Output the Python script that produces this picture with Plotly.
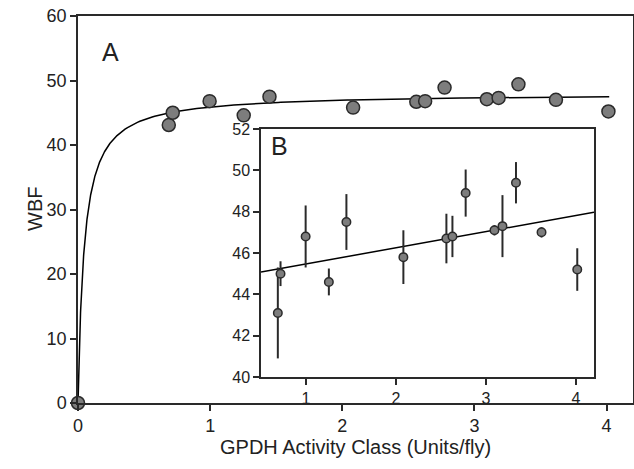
import numpy as np
import plotly.graph_objects as go

# Data
gpdh = [0.687, 0.717, 0.996, 1.254, 1.449, 2.082, 2.56, 2.627, 2.774, 3.094, 3.183, 3.333, 3.617, 4.014]
wbf = [43.1, 45.0, 46.8, 44.6, 47.5, 45.8, 46.7, 46.8, 48.9, 47.1, 47.3, 49.4, 47.0, 45.2]
wbf_err = [2.2, 0.6, 1.5, 0.65, 1.35, 1.3, 1.2, 1.0, 1.14, 0.25, 1.5, 1.0, 0.25, 1.03]
origin_x = [0.0]
origin_y = [0.0]

# Saturation fit (panel A): WBF = vmax * x / (k + x)
vmax = 48.04
k_half = 0.0468
fit_a_xmax = 4.02

# Linear fit (panel B) endpoints
fit_b_x = [0.5, 4.2]
fit_b_y = [45.08, 47.97]

xs = np.concatenate([np.linspace(0, 0.3, 300), np.linspace(0.3, fit_a_xmax, 200)])
ys = vmax * xs / (k_half + xs)

ink = "#2a2a2a"
mfill = "#7d7d7d"
font = "Liberation Sans, Arial, sans-serif"

W, H = 634, 469
L, T, R, B = 78, 16, 1, 469 - 403

fig = go.Figure()
fig.add_trace(go.Scatter(x=xs, y=ys, mode="lines", line=dict(color="black", width=1.5),
                         xaxis="x", yaxis="y", showlegend=False, hoverinfo="skip"))
fig.add_trace(go.Scatter(x=origin_x + gpdh, y=origin_y + wbf, mode="markers",
                         marker=dict(size=13, color=mfill, line=dict(color=ink, width=1.5)),
                         cliponaxis=False, xaxis="x", yaxis="y", showlegend=False))
# inset
fig.add_trace(go.Scatter(x=fit_b_x, y=fit_b_y, mode="lines", line=dict(color="black", width=1.5),
                         xaxis="x2", yaxis="y2", showlegend=False))
fig.add_trace(go.Scatter(x=gpdh, y=wbf, mode="markers",
                         error_y=dict(type="data", array=wbf_err, visible=True, width=0,
                                      color=ink, thickness=2),
                         marker=dict(size=8.5, color=mfill, line=dict(color=ink, width=1.5)),
                         xaxis="x2", yaxis="y2", showlegend=False))

axis_common = dict(showline=True, linecolor=ink, linewidth=1.5, mirror=True, ticks="outside",
                   ticklen=6, tickwidth=1.5, tickcolor=ink, showgrid=False, zeroline=False,
                   automargin=False, ticklabeloverflow="allow")

pw, ph = W - L - R, H - T - B


def px_x(x):
    return (x - L) / pw


def px_y(y):
    return (H - B - y) / ph


fig.update_layout(
    width=W, height=H,
    margin=dict(l=L, r=R, t=T, b=B),
    paper_bgcolor="white", plot_bgcolor="white",
    font=dict(family=font, size=18, color="#222"),
    xaxis=dict(range=[0, 4.2], tickvals=[0, 1, 2, 3, 4], domain=[0, 1], **axis_common),
    yaxis=dict(range=[0, 60], tickvals=[0, 10, 20, 30, 40, 50, 60], domain=[0, 1], **axis_common),
    xaxis2=dict(range=[0.5, 4.2], tickvals=[1, 2, 3, 4], domain=[px_x(261), px_x(594)], anchor="y2",
                tickfont=dict(size=16, color="#222"), **axis_common),
    yaxis2=dict(range=[40, 52], tickvals=[40, 42, 44, 46, 48, 50, 52],
                domain=[px_y(377), px_y(129)], anchor="x2", tickfont=dict(size=16, color="#222"),
                **axis_common),
    annotations=[
        dict(text="A", x=px_x(99.5), y=px_y(36), xref="paper", yref="paper", showarrow=False,
             font=dict(size=25, color="#222")),
        dict(text="B", x=px_x(279), y=px_y(146), xref="paper", yref="paper", showarrow=False,
             font=dict(size=25, color="#222")),
        dict(text="GPDH Activity Class (Units/fly)", x=px_x(355), y=px_y(460), xref="paper",
             yref="paper", showarrow=False, font=dict(size=20, color="#222")),
        dict(text="WBF", x=px_x(22), y=px_y(209), xref="paper", yref="paper", textangle=-90,
             showarrow=False, font=dict(size=20, color="#222")),
    ],
)

fig.write_html("out.html", config={"displayModeBar": False},
               post_script="document.body.style.margin='0';document.body.style.padding='0';")
